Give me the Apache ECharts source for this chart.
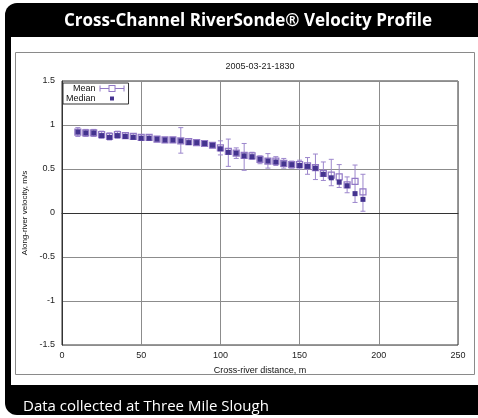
<!DOCTYPE html>
<html>
<head>
<meta charset="utf-8">
<script src="https://cdn.jsdelivr.net/npm/echarts@6/dist/echarts.min.js"></script>
<style>
html,body{margin:0;padding:0;background:#fff;overflow:hidden;}
#chart{width:478px;height:418px;}
</style>
</head>
<body>
<div id="chart"></div>
<script>
// ---- data ----
const distances = [10,15,20,25,30,35,40,45,50,55,60,65,70,75,80,85,90,95,100,105,110,115,120,125,130,135,140,145,150,155,160,165,170,175,180,185,190];
const meanValues = [0.92,0.91,0.91,0.89,0.87,0.89,0.88,0.87,0.86,0.86,0.84,0.83,0.83,0.82,0.81,0.80,0.79,0.77,0.74,0.70,0.68,0.655,0.65,0.61,0.59,0.59,0.565,0.55,0.55,0.535,0.515,0.45,0.43,0.41,0.32,0.36,0.24];
const medianValues = [0.92,0.91,0.91,0.88,0.86,0.88,0.87,0.86,0.85,0.85,0.84,0.83,0.83,0.82,0.80,0.80,0.79,0.77,0.73,0.69,0.68,0.65,0.64,0.61,0.59,0.58,0.56,0.55,0.54,0.53,0.51,0.44,0.40,0.35,0.31,0.22,0.155];
const errLow = [0.87,0.87,0.87,0.85,0.83,0.85,0.85,0.84,0.83,0.83,0.81,0.80,0.80,0.68,0.78,0.77,0.76,0.74,0.66,0.53,0.62,0.485,0.61,0.56,0.51,0.54,0.51,0.51,0.50,0.44,0.38,0.37,0.31,0.29,0.23,0.12,0.02];
const errHigh = [0.97,0.95,0.95,0.93,0.91,0.93,0.91,0.90,0.89,0.89,0.87,0.86,0.86,0.97,0.84,0.83,0.82,0.80,0.82,0.84,0.74,0.79,0.69,0.65,0.675,0.64,0.62,0.59,0.60,0.63,0.67,0.58,0.61,0.55,0.41,0.545,0.44];
const seriesNames = ['Mean','Median'];
const headerText = 'Cross-Channel RiverSonde\u00AE Velocity Profile';
const footerText = 'Data collected at Three Mile Slough';
const chartTitle = '2005-03-21-1830';
const xAxisName = 'Cross-river distance, m';
const yAxisName = 'Along-river velocity, m/s';

const meanData = distances.map((d,i)=>[d, meanValues[i]]);
const medianData = distances.map((d,i)=>[d, medianValues[i]]);
const errData = distances.map((d,i)=>[d, errLow[i], errHigh[i]]);

const barColor = '#9c86cc';
const meanColor = '#9278c6';
const medianColor = '#44338f';
const FONT = '"Liberation Sans", Arial, sans-serif';

const chart = echarts.init(document.getElementById('chart'), null, {renderer:'canvas'});
chart.setOption({
  animation:false,
  backgroundColor:'#fff',
  graphic:[
    {type:'rect', z:-20, silent:true, shape:{x:5,y:3,width:473,height:412,r:[12,0,0,12]}, style:{fill:'#000'}},
    {type:'rect', z:-19, silent:true, shape:{x:11,y:37,width:467,height:348}, style:{fill:'#fff'}},
    {type:'rect', z:-18, silent:true, shape:{x:15.5,y:52.5,width:459,height:322}, style:{fill:'none',stroke:'#8a8a8a',lineWidth:1}},
    {type:'text', z:5, silent:true, x:248, y:21, style:{text:headerText, fill:'#fff', font:'bold 17px "Open Sans", "Noto Sans", sans-serif', textAlign:'center', textVerticalAlign:'middle'}},
    {type:'text', z:5, silent:true, x:23, y:407, style:{text:footerText, fill:'#fff', font:'15px "Open Sans", "Noto Sans", sans-serif', textAlign:'left', textVerticalAlign:'middle'}},
    {type:'text', z:5, silent:true, x:260, y:67, style:{text:chartTitle, fill:'#222', font:'9px '+FONT, textAlign:'center', textVerticalAlign:'middle'}}
  ],
  grid:{left:62, right:20, top:81, bottom:73, show:true, borderColor:'#333', borderWidth:1, backgroundColor:'#fff'},
  legend:{
    orient:'vertical', align:'right', left:63, top:83,
    itemWidth:25, itemHeight:8, itemGap:1,
    padding:[1,4,1,3], borderColor:'#333', borderWidth:1, backgroundColor:'#fff',
    textStyle:{fontSize:9, color:'#111', fontFamily:FONT, padding:[0,-1,0,0]},
    data:[
      {name:'Mean', icon:'path://M0,4.5 h9 v1 h-9 Z M16,4.5 h9 v1 h-9 Z M0,2 h1 v6 h-1 Z M24,2 h1 v6 h-1 Z M9,1.5 h7 v7 h-7 Z M10,2.5 v5 h5 v-5 Z', itemStyle:{color:meanColor, borderWidth:0}},
      {name:'Median', icon:'path://M0,0 M25,10 M10,2.5 h5 v5 h-5 Z', itemStyle:{color:medianColor, borderWidth:0}}
    ]
  },
  xAxis:{
    type:'value', min:0, max:250, interval:50,
    name:xAxisName, nameLocation:'middle', nameGap:21,
    nameTextStyle:{fontSize:9, color:'#111', fontFamily:FONT},
    axisLine:{show:true, lineStyle:{color:'#333', width:1}},
    axisTick:{show:false},
    axisLabel:{fontSize:9, color:'#222', fontFamily:FONT, margin:6},
    splitLine:{show:true, lineStyle:{color:'#8c8c8c', width:1}}
  },
  yAxis:{
    type:'value', min:-1.5, max:1.5, interval:0.5,
    name:yAxisName, nameLocation:'middle', nameGap:30, nameRotate:90,
    nameTextStyle:{fontSize:8, color:'#111', fontFamily:FONT},
    axisLine:{show:true, lineStyle:{color:'#333', width:1}},
    axisTick:{show:false},
    axisLabel:{fontSize:9, color:'#222', fontFamily:FONT, margin:7},
    splitLine:{show:true, lineStyle:{color:'#8c8c8c', width:1}}
  },
  series:[
    {
      type:'custom', name:'errorbars', data:errData, z:3,
      encode:{x:0, y:[1,2]},
      renderItem:function(params, api){
        const x = api.value(0);
        const lo = api.coord([x, api.value(1)]);
        const hi = api.coord([x, api.value(2)]);
        const cap = 2.5;
        const st = {stroke:barColor, lineWidth:1};
        return {type:'group', children:[
          {type:'line', shape:{x1:lo[0], y1:lo[1], x2:hi[0], y2:hi[1]}, style:st},
          {type:'line', shape:{x1:lo[0]-cap, y1:lo[1], x2:lo[0]+cap, y2:lo[1]}, style:st},
          {type:'line', shape:{x1:hi[0]-cap, y1:hi[1], x2:hi[0]+cap, y2:hi[1]}, style:st}
        ]};
      }
    },
    {
      type:'scatter', name:'Mean', data:meanData, z:4,
      symbol:'rect', symbolSize:6,
      itemStyle:{color:'rgba(255,255,255,0)', borderColor:meanColor, borderWidth:1.2, opacity:1}
    },
    {
      type:'scatter', name:'Median', data:medianData, z:5,
      symbol:'rect', symbolSize:5,
      itemStyle:{color:medianColor, opacity:1}
    }
  ]
});
</script>
</body>
</html>
